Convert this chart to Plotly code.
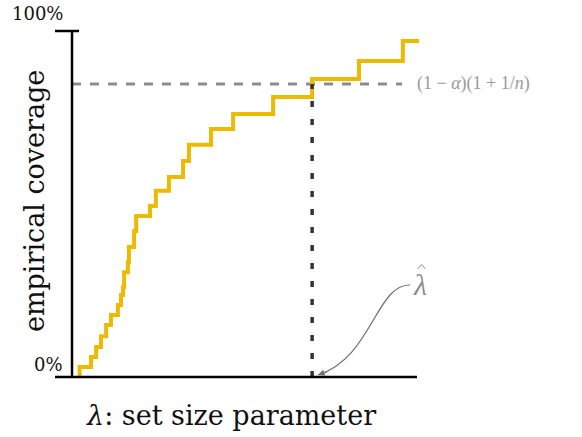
import plotly.graph_objects as go

# step curve: lambda (x) vs empirical coverage (y), fraction of axis
lam = [0.022, 0.022, 0.055, 0.070, 0.084, 0.099, 0.113, 0.133, 0.142, 0.148,
       0.151, 0.162, 0.165, 0.180, 0.186, 0.226, 0.243, 0.281, 0.322, 0.339,
       0.403, 0.467, 0.583, 0.696, 0.832, 0.959, 1.006]
coverage = [0.000, 0.029, 0.058, 0.087, 0.118, 0.150, 0.179, 0.208, 0.237, 0.260,
            0.303, 0.332, 0.376, 0.422, 0.465, 0.494, 0.538, 0.578, 0.624, 0.671,
            0.717, 0.760, 0.809, 0.861, 0.913, 0.971, 0.971]
target = 0.847          # (1-alpha)(1+1/n)
target_end = 0.957
lam_hat = lam[23]

y_ticks = [0, 1]
y_tick_text = ['0%', '100%']

W, H = 582, 437
ML, MR, MT, MB = 20, 20, 10, 20
X0_PX, X1_PX = 72, 417     # pixel of lambda = 0 and 1
Y0_PX, Y1_PX = 377, 31     # pixel of coverage = 0 and 1
sx = (X1_PX - X0_PX)
sy = (Y0_PX - Y1_PX)

FONT = 'DejaVu Serif'
YELLOW = '#ECBA00'
GRAY = '#8c8c8c'

fig = go.Figure()

# threshold line
fig.add_trace(go.Scatter(x=[0, target_end], y=[target, target], mode='lines',
                         line=dict(color=GRAY, width=3, dash='dash'),
                         hoverinfo='skip'))
# empirical coverage staircase
fig.add_trace(go.Scatter(x=lam, y=coverage, mode='lines', line_shape='hv',
                         line=dict(color=YELLOW, width=4),
                         hovertemplate='λ: %{x:.3f}<br>coverage: %{y:.1%}<extra></extra>'))
# lambda hat
fig.add_trace(go.Scatter(x=[lam_hat, lam_hat], y=[0, target], mode='lines',
                         line=dict(color='#333333', width=3.5, dash='6px,12px'),
                         hoverinfo='skip'))

# axes drawn by hand
tick = 17 / sx
fig.add_shape(type='line', x0=0, x1=0, y0=0, y1=1, line=dict(color='black', width=2.5))
fig.add_shape(type='line', x0=-tick, x1=1, y0=0, y1=0, line=dict(color='black', width=2.5))
fig.add_shape(type='line', x0=-tick, x1=7 / sx, y0=1, y1=1, line=dict(color='black', width=2.5))

for yv, txt in zip(y_ticks, y_tick_text):
    fig.add_annotation(x=-7 / sx, y=yv + (13 if yv == 0 else 18) / sy, text=txt,
                       xanchor='right', yanchor='middle', showarrow=False,
                       font=dict(family=FONT, size=18, color='#111111'))

# curved arrow towards lambda hat
def px(xp, yp):
    return (xp - X0_PX) / sx, (Y0_PX - yp) / sy

p0 = px(410, 285)
c1 = px(376, 284)
c2 = px(372, 358)
p3 = px(318, 375)
path = 'M {} {} C {} {}, {} {}, {} {}'.format(*p0, *c1, *c2, *p3)
fig.add_shape(type='path', path=path, line=dict(color='#6e6e6e', width=1.2))
fig.add_annotation(x=p3[0], y=p3[1], ax=11, ay=-4, text='', showarrow=True,
                   arrowhead=2, arrowsize=1.1, arrowwidth=1.2, arrowcolor='#6e6e6e')

# lambda hat label: letter plus a drawn hat
fig.add_annotation(x=px(420, 0)[0], y=px(0, 284)[1], text='<i>λ</i>', showarrow=False,
                   font=dict(family='Liberation Serif', size=30, color=GRAY))
h0, h1, h2 = px(417.5, 269), px(421.5, 264.5), px(425.5, 269)
fig.add_shape(type='path', path='M {} {} L {} {} L {} {}'.format(*h0, *h1, *h2),
              line=dict(color=GRAY, width=1))
fig.add_annotation(x=px(415, 0)[0], y=target, text='(1 − <i>α</i>)(1 + 1/<i>n</i>)',
                   xanchor='left', yanchor='middle', showarrow=False,
                   font=dict(family='Liberation Serif', size=18, color='#9a9a9a'))

fig.add_annotation(x=px(231, 0)[0], y=px(0, 415)[1], text='<i>λ</i>: set size parameter',
                   showarrow=False, font=dict(family=FONT, size=27, color='#111111'))
fig.add_annotation(x=px(34, 0)[0], y=px(0, 201)[1], text='empirical coverage', textangle=-90,
                   showarrow=False, font=dict(family=FONT, size=27, color='#111111'))

fig.update_layout(
    width=W, height=H,
    margin=dict(l=ML, r=MR, t=MT, b=MB),
    xaxis=dict(range=[(ML - X0_PX) / sx, (W - MR - X0_PX) / sx], visible=False),
    yaxis=dict(range=[(Y0_PX - (H - MB)) / sy, (Y0_PX - MT) / sy], visible=False),
    showlegend=False,
    plot_bgcolor='white', paper_bgcolor='white',
)

fig.write_html("out.html", config={'displayModeBar': False},
               post_script="document.body.style.margin='0';")
